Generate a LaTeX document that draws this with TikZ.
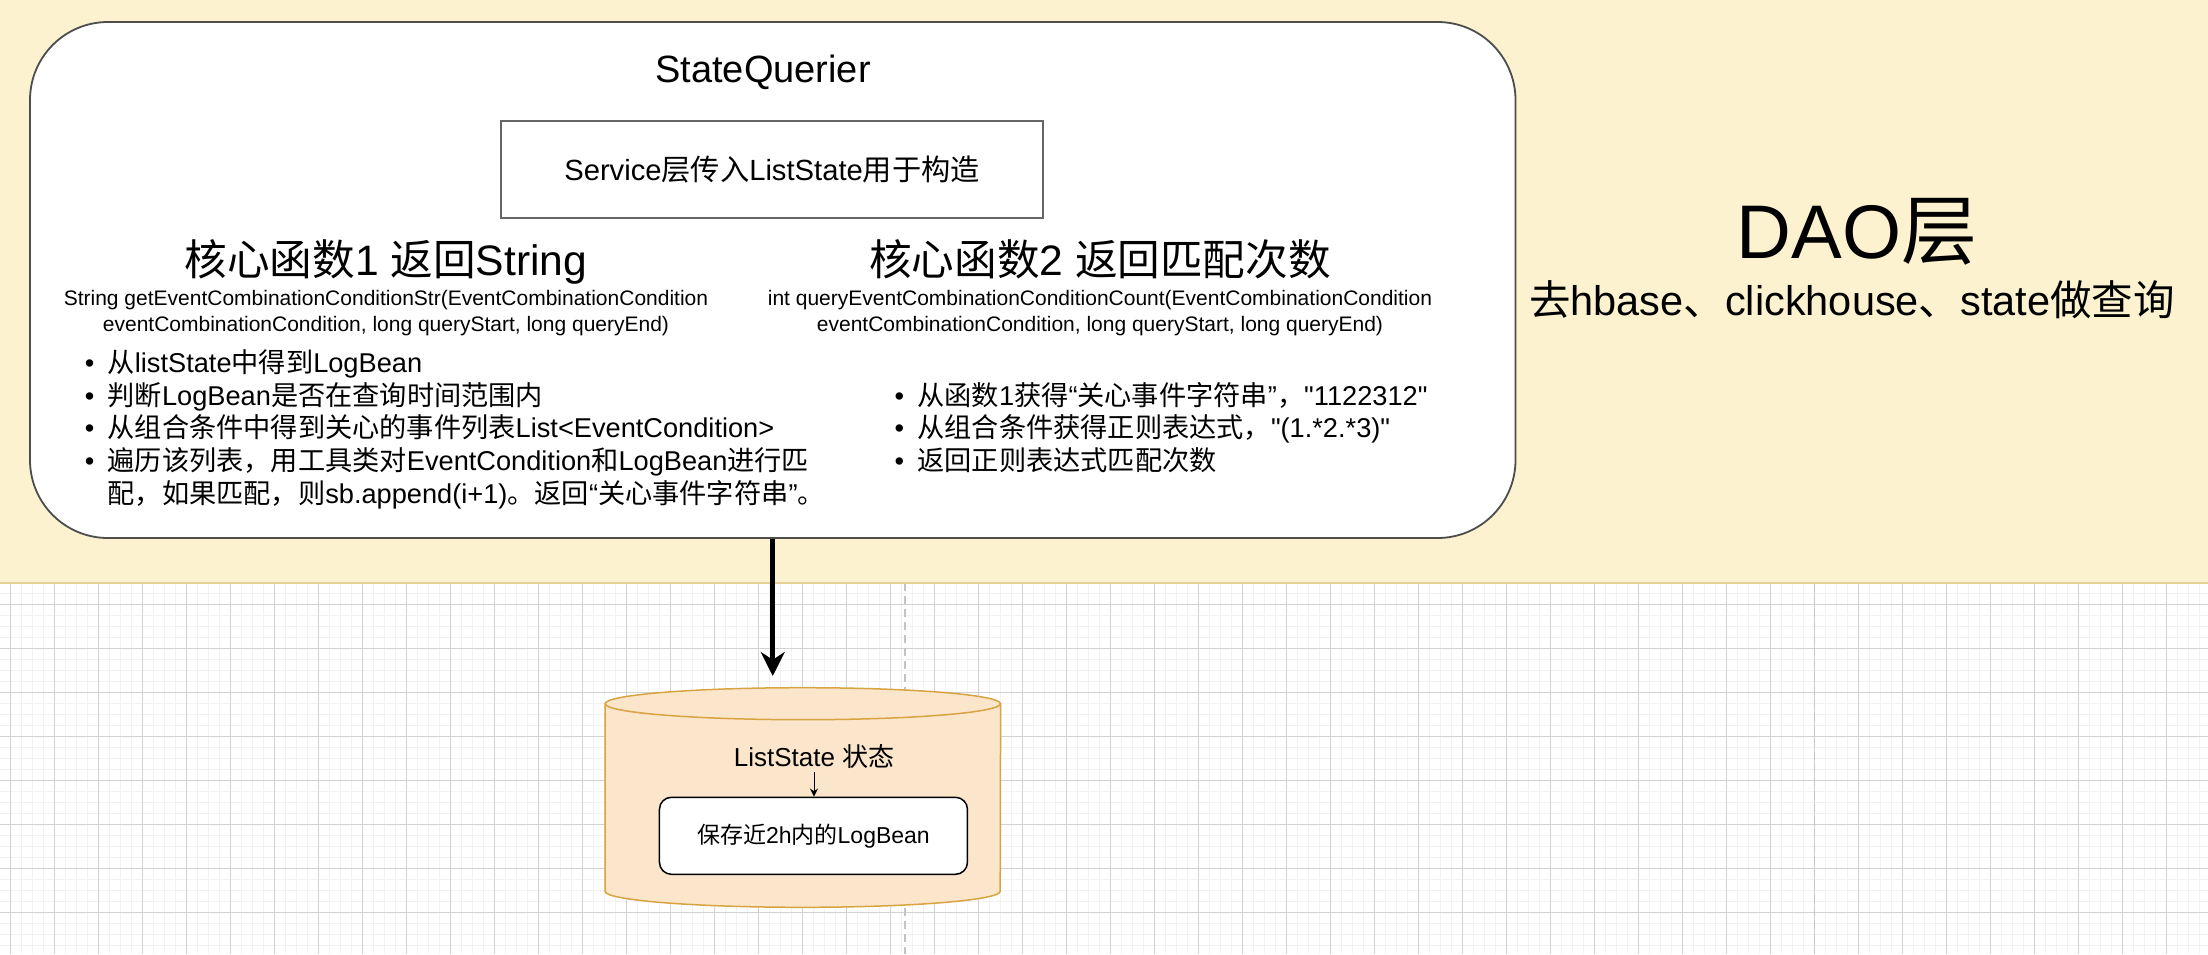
\documentclass[tikz,border=0pt]{standalone}
\usepackage{fontspec}
\setmainfont{Liberation Sans}
\newfontfamily\cjkfont{Noto Sans CJK SC}
\newcommand{\zh}[1]{{\cjkfont #1}}
\newcommand{\itemdot}{\makebox[11.4pt][l]{\textbullet}}
\usetikzlibrary{arrows.meta,positioning}
\definecolor{bandfill}{HTML}{FCF2CF}
\definecolor{bandedge}{HTML}{E5D293}
\definecolor{gridminor}{HTML}{F2F2F2}
\definecolor{gridmajor}{HTML}{D2D2D2}
\definecolor{pageline}{HTML}{C4C4C4}
\definecolor{panelline}{HTML}{4D4D4D}
\definecolor{svcline}{HTML}{666666}
\definecolor{cylfill}{HTML}{FBE5CB}
\definecolor{cylline}{HTML}{D8A441}

\begin{document}
\begin{tikzpicture}[x=0.5pt,y=-0.5pt,
    minorgrid/.style={draw=gridminor,line width=0.8pt},
    majorgrid/.style={draw=gridmajor,line width=0.6pt},
    pagebreak/.style={draw=pageline,line width=0.8pt,dash pattern=on 4pt off 2.5pt},
    panel/.style={draw=panelline,fill=white,line width=0.9pt,rounded corners=39pt,inner sep=0pt},
    svcbox/.style={draw=svcline,fill=white,line width=0.75pt,inner sep=0pt,
      minimum width=271pt,minimum height=48.5pt,font=\fontsize{14.6pt}{17.5pt}\selectfont},
    keepbox/.style={draw=black,fill=white,line width=0.75pt,rounded corners=6pt,inner sep=0pt,
      minimum width=154pt,minimum height=38.5pt,font=\fontsize{11.5pt}{14pt}\selectfont},
    toptext/.style={font=\fontsize{19pt}{23pt}\selectfont,anchor=base,inner sep=0pt},
    headtext/.style={font=\fontsize{21.3pt}{26pt}\selectfont,anchor=base,inner sep=0pt},
    sigtext/.style={font=\fontsize{10.5pt}{12.75pt}\selectfont,anchor=base,inner sep=0pt},
    bullettext/.style={font=\fontsize{13.6pt}{16.4pt}\selectfont,anchor=base west,inner sep=0pt},
    bigarrow/.style={line width=2.5pt,-{Stealth[length=12pt,width=12pt]}},
    smallarrow/.style={line width=0.5pt,-{Stealth[length=4pt,width=4pt]}}]
  \useasboundingbox (0,0) rectangle (2208,954);
  \foreach \k in {0,...,201} {\draw[minorgrid] ({-0.7+11*\k},583) -- ({-0.7+11*\k},954);}
  \foreach \k in {0,...,33} {\draw[minorgrid] (0,{593.3+11*\k}) -- (2208,{593.3+11*\k});}
  \foreach \k in {0,...,50} {\draw[majorgrid] ({10.3+44*\k},583) -- ({10.3+44*\k},954);}
  \foreach \k in {0,...,8} {\draw[majorgrid] (0,{604.3+44*\k}) -- (2208,{604.3+44*\k});}
  \draw[pagebreak] (905,583) -- (905,954);
  \draw[pagebreak] (1814.3,583) -- (1814.3,954);
  \fill[bandfill] (0,0) rectangle (2208,582.7);
  \draw[bandedge,line width=1.2pt] (0,582.7) -- (2208,582.7);

  \node[panel,minimum width=742.75pt,minimum height=258pt] (querier) at (772.75,280) {};
  \node[toptext] (title) at (763,82.6) {StateQuerier};
  \node[svcbox] (svc) at (772,169.5) {Service\zh{层传入}ListState\zh{用于构造}};
  \node[headtext] (f1) at (386,275) {\zh{核心函数}1 \zh{返回}String};
  \node[headtext] (f2) at (1100,275) {\zh{核心函数}2 \zh{返回匹配次数}};
  \node[sigtext] (f1a) at (386,305.5) {String getEventCombinationConditionStr(EventCombinationCondition};
  \node[sigtext] (f1b) at (386,331) {eventCombinationCondition, long queryStart, long queryEnd)};
  \node[sigtext] (f2a) at (1100,305.5) {int queryEventCombinationConditionCount(EventCombinationCondition};
  \node[sigtext] (f2b) at (1100,331) {eventCombinationCondition, long queryStart, long queryEnd)};
  \node[bullettext] (l1) at (84.5,372.5) {\itemdot\zh{从}listState\zh{中得到}LogBean};
  \node[bullettext] (l2) at (84.5,405.2) {\itemdot\zh{判断}LogBean\zh{是否在查询时间范围内}};
  \node[bullettext] (l3) at (84.5,437.9) {\itemdot\zh{从组合条件中得到关心的事件列表}List<EventCondition>};
  \node[bullettext] (l4) at (84.5,470.6) {\itemdot\zh{遍历该列表，用工具类对}EventCondition\zh{和}LogBean\zh{进行匹}};
  \node[bullettext] (l5) at (107.3,503.3) {\zh{配，如果匹配，则}sb.append(i+1)\zh{。返回}“\zh{关心事件字符串}”\zh{。}};
  \node[bullettext] (r1) at (894.2,405.2) {\itemdot\zh{从函数}1\zh{获得}“\zh{关心事件字符串}”\zh{，}\textquotedbl 1122312\textquotedbl};
  \node[bullettext] (r2) at (894.2,437.9) {\itemdot\zh{从组合条件获得正则表达式，}\textquotedbl(1.*2.*3)\textquotedbl};
  \node[bullettext] (r3) at (894.2,470.6) {\itemdot\zh{返回正则表达式匹配次数}};

  \node[font=\fontsize{38pt}{45pt}\selectfont,anchor=base,inner sep=0pt] (dao) at (1857,258) {DAO\zh{层}};
  \node[font=\fontsize{20.75pt}{25pt}\selectfont,anchor=base,inner sep=0pt] (daosub) at (1852,315)
    {\zh{去}hbase\zh{、}clickhouse\zh{、}state\zh{做查询}};

  \fill[cylfill] (605,703.7) -- (605,891.3) arc[start angle=180,end angle=360,x radius=98.8pt,y radius=8pt]
    -- (1000.6,703.7) arc[start angle=0,end angle=180,x radius=98.8pt,y radius=8pt] -- cycle;
  \draw[cylline,line width=0.75pt] (605,703.7) -- (605,891.3)
    arc[start angle=180,end angle=360,x radius=98.8pt,y radius=8pt] -- (1000.6,703.7);
  \draw[cylline,line width=0.75pt] (802.8,703.7) ellipse [x radius=98.8pt,y radius=8pt];
  \node[font=\fontsize{13pt}{16pt}\selectfont,anchor=base,inner sep=0pt] (st) at (814,766.5) {ListState \zh{状态}};
  \node[keepbox] (keep) at (813.45,835.8) {\zh{保存近}2h\zh{内的}LogBean};
  \draw[smallarrow] ([yshift=-1.5pt]st.south) -- (st.south |- keep.north);

  \coordinate (storetop) at (772.75,676);
  \draw[bigarrow] (querier.south) -- (storetop);
\end{tikzpicture}
\end{document}
